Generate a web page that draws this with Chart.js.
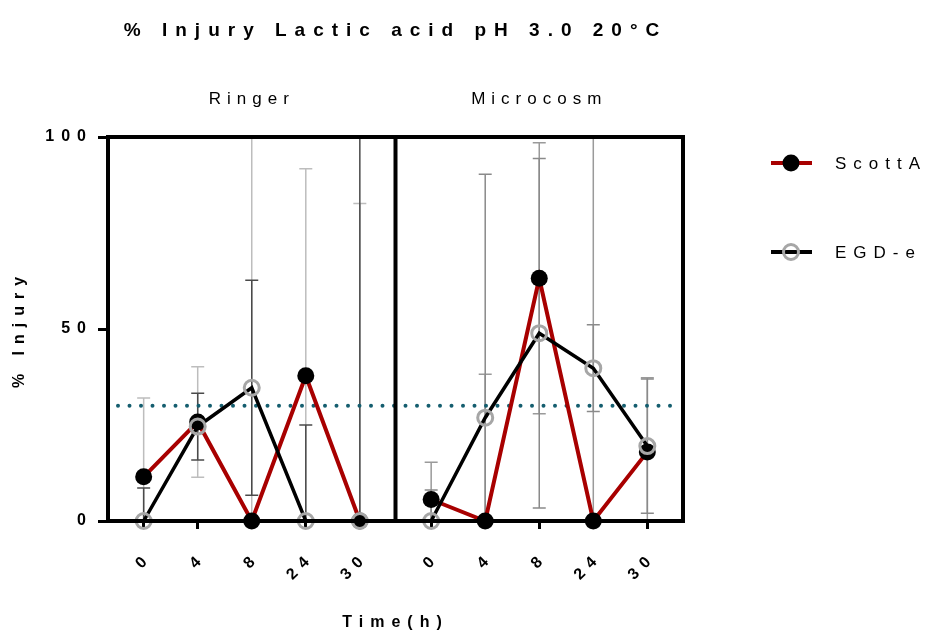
<!DOCTYPE html>
<html>
<head>
<meta charset="utf-8">
<script src="https://cdn.jsdelivr.net/npm/chart.js@4"></script>
<style>
  body { margin: 0; background: #fff; }
  canvas { display: block; }
</style>
</head>
<body>
<canvas id="injuryChart" width="925" height="636"></canvas>
<script>
const timeLabels = ['0', '4', '8', '24', '30'];
const panelNames = ['Ringer', 'Microcosm'];
const seriesNames = ['ScottA', 'EGD-e'];
const yTicks = [0, 50, 100];
const cutoff = 30;

// % injury in Ringer (mean and error)
const ringerScottA = [11.5, 25.8, 0, 37.8, 0];
const ringerScottAErr = [20.5, 14.4, 120, 53.9, 82.7];
const ringerEGDe = [0, 24.6, 34.7, 0, 0];
const ringerEGDeErr = [8.6, 8.7, 28, 25, 120];

// % injury in Microcosm
const microScottA = [5.6, 0, 63.2, 0, 18.0];
const microScottAErr = [9.7, 38.2, 35.3, 120, 19.3];
const microEGDe = [0, 26.9, 48.9, 39.8, 19.5];
const microEGDeErr = [8.1, 63.4, 45.5, 11.3, 17.5];

// both panels share one linear x scale, each panel = 5 time points + a margin each side
const edge = 0.66;
const panelWidth = timeLabels.length - 1 + 2 * edge;
const xAt = (panel, i) => panel * panelWidth + i;
const tickPositions = [];
panelNames.forEach((p, k) => timeLabels.forEach((t, i) => tickPositions.push(xAt(k, i))));

const scottStyle = {
    label: seriesNames[0],
    borderColor: '#a80000',
    borderWidth: 4,
    pointRadius: 8.5,
    pointBackgroundColor: '#000',
    pointBorderColor: '#000',
    pointBorderWidth: 0,
    order: 2
};
const egdStyle = {
    label: seriesNames[1],
    borderColor: '#000',
    borderWidth: 3.5,
    pointRadius: 7.5,
    pointBackgroundColor: 'rgba(0,0,0,0)',
    pointBorderColor: '#a6a6a6',
    pointBorderWidth: 3,
    order: 1
};

function series(values, errors, panel, style, errColor) {
    return Object.assign({
        data: values.map((v, i) => ({ x: xAt(panel, i), y: v })),
        errorBars: errors,
        errorColor: errColor,
        clip: false,
        tension: 0
    }, style);
}

// error bars are drawn in this order, light ScottA bars under the dark EGD-e ones
const datasets = [
    series(ringerScottA, ringerScottAErr, 0, scottStyle, '#bdbdbd'),
    series(microScottA, microScottAErr, 1, scottStyle, '#9a9a9a'),
    series(ringerEGDe, ringerEGDeErr, 0, egdStyle, '#4a4a4a'),
    series(microEGDe, microEGDeErr, 1, egdStyle, '#8a8a8a')
];

const FONT = "'Liberation Sans', Arial, sans-serif";
const axisFont = { family: FONT, size: 16, weight: 'bold' };

function spacedText(ctx, text, x, y, font, spacing, align) {
    ctx.save();
    ctx.font = font;
    ctx.letterSpacing = spacing + 'px';
    ctx.fillStyle = '#000';
    ctx.textAlign = align || 'center';
    ctx.textBaseline = 'alphabetic';
    ctx.fillText(text, x, y);
    ctx.restore();
}

const panelFrame = {
    id: 'panelFrame',
    beforeDraw(chart) {
        chart.ctx.letterSpacing = '7px';
    },
    beforeDatasetsDraw(chart) {
        const { ctx, chartArea: a, scales: { x, y } } = chart;
        ctx.save();
        ctx.beginPath();
        ctx.rect(a.left, a.top, a.right - a.left, a.bottom - a.top);
        ctx.clip();

        // error bars
        chart.data.datasets.forEach(ds => {
            ctx.strokeStyle = ds.errorColor;
            ctx.lineWidth = 1.5;
            ds.data.forEach((pt, i) => {
                const e = ds.errorBars[i];
                const px = x.getPixelForValue(pt.x);
                const top = y.getPixelForValue(pt.y + e);
                const bot = y.getPixelForValue(pt.y - e);
                ctx.beginPath();
                ctx.moveTo(px, top); ctx.lineTo(px, bot);
                ctx.moveTo(px - 6.5, top); ctx.lineTo(px + 6.5, top);
                ctx.moveTo(px - 6.5, bot); ctx.lineTo(px + 6.5, bot);
                ctx.stroke();
            });
        });

        // dotted cutoff line
        const cy = y.getPixelForValue(cutoff);
        ctx.strokeStyle = '#155e6f';
        ctx.lineWidth = 4;
        ctx.lineCap = 'round';
        ctx.setLineDash([0, 11.5]);
        ctx.beginPath();
        ctx.moveTo(a.left + 10, cy);
        ctx.lineTo(a.right - 8, cy);
        ctx.stroke();
        ctx.restore();
    },
    afterDraw(chart) {
        const { ctx, chartArea: a, scales: { x } } = chart;
        ctx.save();
        ctx.letterSpacing = '0px';
        ctx.strokeStyle = '#000';
        ctx.lineWidth = 4;
        ctx.strokeRect(a.left, a.top, a.right - a.left, a.bottom - a.top);
        const split = x.getPixelForValue(panelWidth - edge);
        ctx.beginPath();
        ctx.moveTo(split, a.top);
        ctx.lineTo(split, a.bottom);
        ctx.stroke();
        ctx.restore();

        const mid = (a.left + a.right) / 2;
        spacedText(ctx, '% Injury Lactic acid pH 3.0 20°C', mid, 36, 'bold 19px ' + FONT, 8);

        panelNames.forEach((name, k) => {
            const cx = (x.getPixelForValue(xAt(k, 0) - edge) + x.getPixelForValue(xAt(k, 4) + edge)) / 2;
            spacedText(ctx, name, cx, 104, '17px ' + FONT, 6);
        });

        // legend
        const rows = [
            { y: 163, line: '#a80000', fill: '#000', ring: null, r: 8.5 },
            { y: 252, line: '#000', fill: null, ring: '#a6a6a6', r: 7.5 }
        ];
        rows.forEach((row, k) => {
            ctx.save();
            ctx.strokeStyle = row.line;
            ctx.lineWidth = 4;
            ctx.beginPath();
            ctx.moveTo(771, row.y);
            ctx.lineTo(812, row.y);
            ctx.stroke();
            ctx.beginPath();
            ctx.arc(791, row.y, row.r, 0, Math.PI * 2);
            if (row.fill) { ctx.fillStyle = row.fill; ctx.fill(); }
            if (row.ring) { ctx.strokeStyle = row.ring; ctx.lineWidth = 3; ctx.stroke(); }
            ctx.restore();
            spacedText(ctx, seriesNames[k], 835, row.y + 6, '17px ' + FONT, 7, 'left');
        });
    }
};

new Chart(document.getElementById('injuryChart'), {
    type: 'line',
    data: { datasets },
    options: {
        responsive: false,
        animation: false,
        layout: { padding: { left: 0, top: 137, right: 242, bottom: 0 } },
        plugins: { legend: { display: false }, tooltip: { enabled: false } },
        scales: {
            x: {
                type: 'linear',
                min: -edge,
                max: 2 * panelWidth - edge,
                afterFit: s => { s.height = 115; },
                afterBuildTicks: s => { s.ticks = tickPositions.map(v => ({ value: v })); },
                ticks: {
                    autoSkip: false,
                    minRotation: 45,
                    maxRotation: 45,
                    padding: 19,
                    labelOffset: 6,
                    color: '#000',
                    font: axisFont,
                    callback: (v, i) => timeLabels[i % timeLabels.length]
                },
                grid: { drawOnChartArea: false, tickLength: 8, tickWidth: 3, tickColor: '#000' },
                border: { display: false },
                title: {
                    display: true,
                    text: 'Time(h)',
                    color: '#000',
                    font: axisFont,
                    padding: { top: 0, bottom: 4 }
                }
            },
            y: {
                min: 0,
                max: 100,
                afterFit: s => { s.width = 108; },
                afterBuildTicks: s => { s.ticks = yTicks.map(v => ({ value: v })); },
                ticks: {
                    padding: 5,
                    color: '#000',
                    font: axisFont
                },
                grid: { drawOnChartArea: false, tickLength: 10, tickWidth: 3, tickColor: '#000' },
                border: { display: false },
                title: {
                    display: true,
                    text: '% Injury',
                    color: '#000',
                    font: axisFont,
                    padding: { top: 10, bottom: 0 }
                }
            }
        }
    },
    plugins: [panelFrame]
});
</script>
</body>
</html>
